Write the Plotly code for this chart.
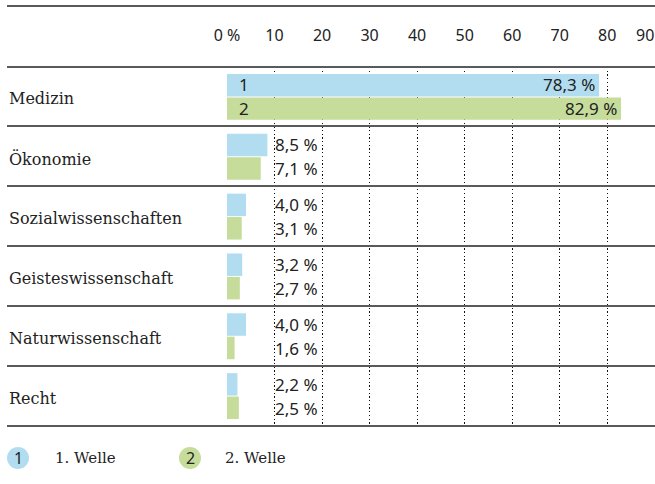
import plotly.graph_objects as go

categories = ["Medizin", "Ökonomie", "Sozialwissenschaften", "Geisteswissenschaft", "Naturwissenschaft", "Recht"]
welle1 = [78.3, 8.5, 4.0, 3.2, 4.0, 2.2]
welle2 = [82.9, 7.1, 3.1, 2.7, 1.6, 2.5]
series_names = ["1. Welle", "2. Welle"]
series_short = ["1", "2"]
tick_vals = [0, 10, 20, 30, 40, 50, 60, 70, 80, 90]
tick_text = ["0 %", "10", "20", "30", "40", "50", "60", "70", "80", "90"]

colors = ["#b2ddf0", "#c6dc9b"]
W, H = 655, 484
L, R, T, B = 227, 0, 67, 58
pw, ph = W - L - R, H - T - B
XMAX = 90.05

def px2x(px):
    return (px - L) / pw

def py2y(py):
    return (H - B - py) / ph

fig = go.Figure()
for name, vals, col in zip(series_names, [welle1, welle2], colors):
    fig.add_trace(go.Bar(y=categories, x=vals, orientation="h", name=name,
                         marker=dict(color=col, line=dict(width=0)), showlegend=False,
                         hoverinfo="skip"))

def fmt(v):
    return f"{v:.1f}".replace(".", ",") + " %"

num_font = dict(family="Noto Sans", size=17, color="#222")
tick_font = dict(family="Noto Sans", size=16, color="#222")
serif_font = dict(family="DejaVu Serif", size=16, color="#222")
leg_font = dict(family="DejaVu Serif", size=15, color="#222")

annotations = []
for i, cat in enumerate(categories):
    for s, vals in enumerate([welle1, welle2]):
        v = vals[i]
        ys = 12 if s == 0 else -12
        if v > 20:
            annotations.append(dict(x=v, y=cat, xref="x", yref="y", yshift=ys, xshift=-2,
                                    text=fmt(v), showarrow=False, xanchor="right",
                                    font=num_font))
            annotations.append(dict(x=0, y=cat, xref="x", yref="y", yshift=ys, xshift=10,
                                    text=series_short[s], showarrow=False, xanchor="left",
                                    font=num_font))
        else:
            annotations.append(dict(x=10, y=cat, xref="x", yref="y", yshift=ys, xshift=-2,
                                    text=fmt(v), showarrow=False, xanchor="left",
                                    font=num_font))
    annotations.append(dict(x=px2x(7), y=cat, xref="paper", yref="y", text=cat, yshift=-2,
                            showarrow=False, xanchor="left", font=serif_font))

# tick labels that sit at the very edge of the chart (plotly hides them) -> annotations
axis_vals = [v for v in tick_vals if v < XMAX - 1]
axis_text = [t for v, t in zip(tick_vals, tick_text) if v < XMAX - 1]
for v, t in zip(tick_vals, tick_text):
    if v >= XMAX - 1:
        annotations.append(dict(x=v, y=py2y(35), xref="x", yref="paper", text=t, xshift=1,
                                showarrow=False, xanchor="right", yanchor="middle",
                                font=tick_font))

# legend
legend_items = [(18, 53), (190, 223)]
shapes = []
for (cx, tx), short, name, col in zip(legend_items, series_short, series_names, colors):
    shapes.append(dict(type="circle", xref="paper", yref="paper",
                       x0=px2x(cx - 11), x1=px2x(cx + 11), y0=py2y(458 + 11), y1=py2y(458 - 11),
                       fillcolor=col, line=dict(width=0)))
    annotations.append(dict(x=px2x(cx), y=py2y(458), xref="paper", yref="paper", text=short,
                            showarrow=False, xanchor="center", yanchor="middle", font=tick_font))
    annotations.append(dict(x=px2x(tx), y=py2y(458), xref="paper", yref="paper", text=name,
                            showarrow=False, xanchor="left", yanchor="middle", font=leg_font))

# horizontal rules
for py in [6, 67, 126, 186, 246, 306, 366, 426]:
    shapes.append(dict(type="line", xref="paper", yref="paper", x0=px2x(7), x1=1.05,
                       y0=py2y(py), y1=py2y(py), line=dict(color="#5a5a5a", width=2)))

fig.update_layout(
    width=W, height=H, margin=dict(l=L, r=R, t=T, b=B),
    paper_bgcolor="white", plot_bgcolor="white",
    barmode="group", bargap=0.217, bargroupgap=0.04,
    annotations=annotations, shapes=shapes,
    xaxis=dict(range=[0, XMAX], side="top", tickvals=axis_vals, ticktext=axis_text,
               showgrid=True, gridcolor="#111", griddash="1.3px,2.4px", gridwidth=1.3,
               zeroline=False, showline=False, ticks="", ticklabelstandoff=22,
               automargin=False, tickfont=tick_font, fixedrange=True),
    yaxis=dict(autorange="reversed", showticklabels=False, showgrid=False, zeroline=False,
               ticks="", fixedrange=True, automargin=False),
)

fig.write_html("out.html", config={"displayModeBar": False},
               post_script="document.body.style.margin='0';document.body.style.overflow='hidden';")
